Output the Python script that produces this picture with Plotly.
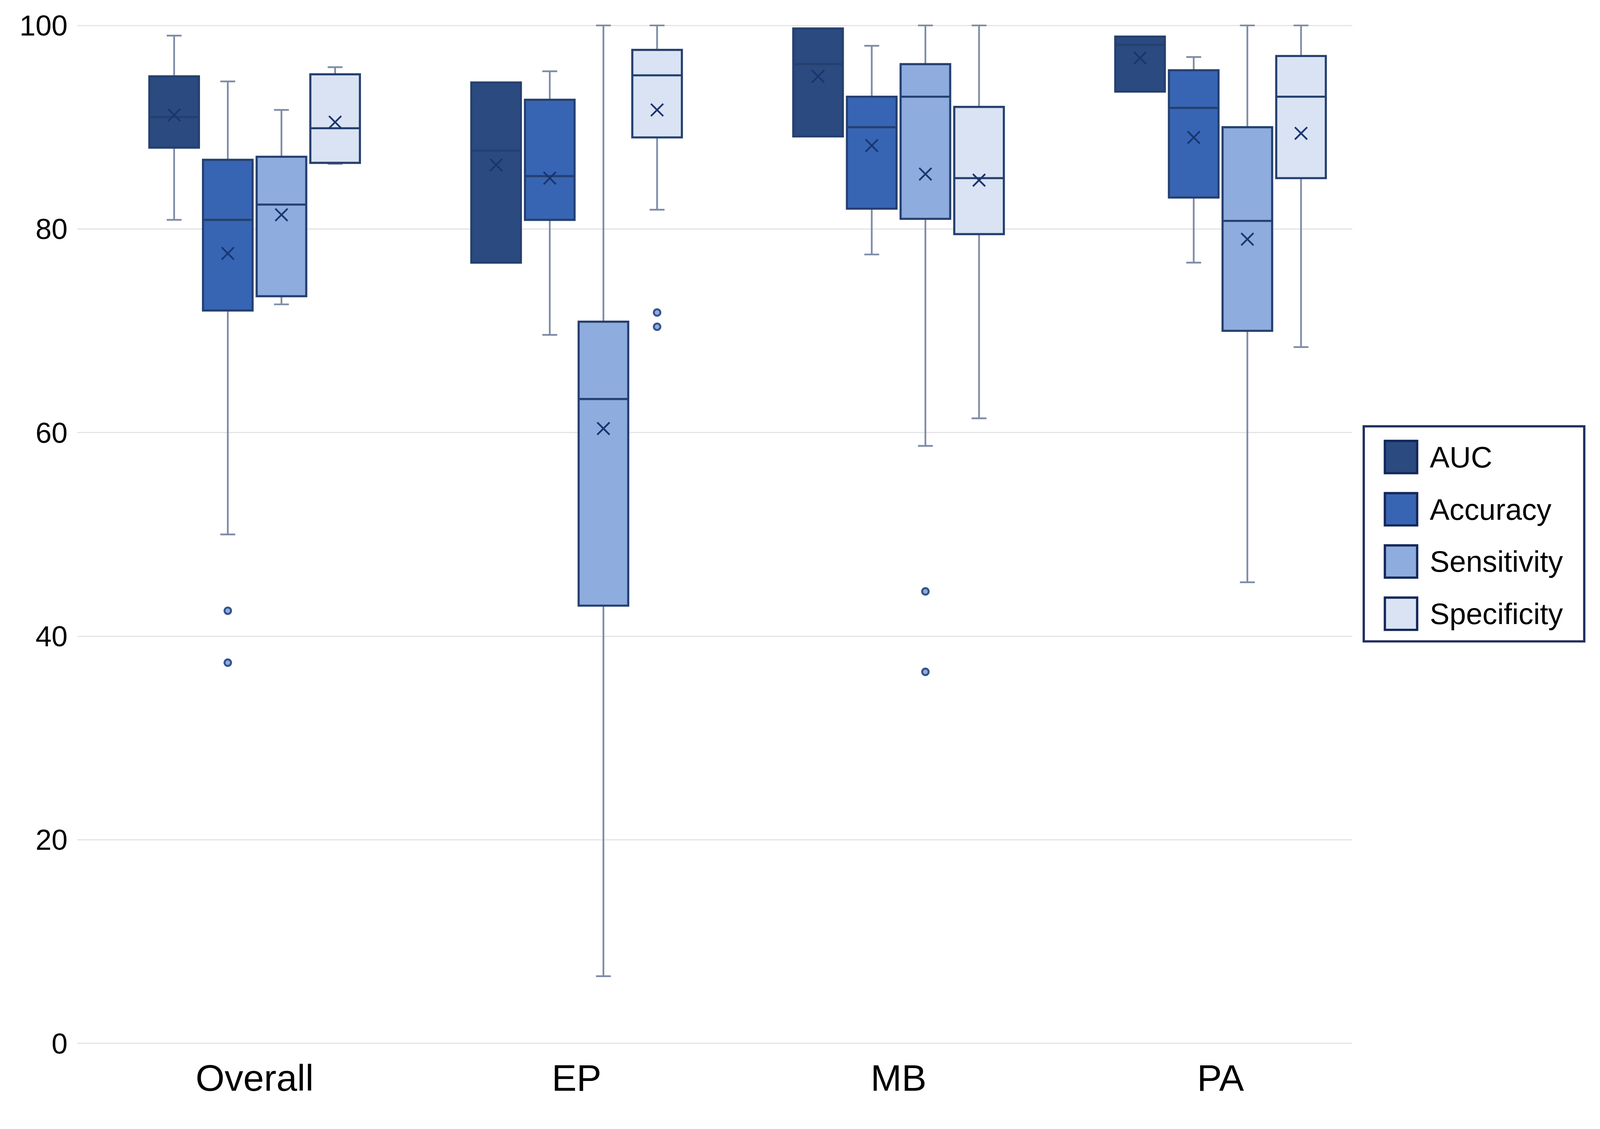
import plotly.graph_objects as go

# Box plot of AUC / Accuracy / Sensitivity / Specificity per subgroup

categories = ["Overall", "EP", "MB", "PA"]
series_names = ["AUC", "Accuracy", "Sensitivity", "Specificity"]

auc_lower = [80.9, 76.7, 89.1, 93.5]
auc_q1 = [88.0, 76.7, 89.1, 93.5]
auc_median = [91.0, 87.7, 96.2, 98.1]
auc_q3 = [95.0, 94.4, 99.7, 98.9]
auc_upper = [99.0, 94.4, 99.7, 98.9]
auc_mean = [91.2, 86.3, 95.0, 96.8]
auc_outliers = [[], [], [], []]

acc_lower = [50.0, 69.6, 77.5, 76.7]
acc_q1 = [72.0, 80.9, 82.0, 83.1]
acc_median = [80.9, 85.2, 90.0, 91.9]
acc_q3 = [86.8, 92.7, 93.0, 95.6]
acc_upper = [94.5, 95.5, 98.0, 96.9]
acc_mean = [77.6, 85.0, 88.2, 89.0]
acc_outliers = [[42.5, 37.4], [], [], []]

sens_lower = [72.6, 6.6, 58.7, 45.3]
sens_q1 = [73.4, 43.0, 81.0, 70.0]
sens_median = [82.4, 63.3, 93.0, 80.8]
sens_q3 = [87.1, 70.9, 96.2, 90.0]
sens_upper = [91.7, 100.0, 100.0, 100.0]
sens_mean = [81.4, 60.4, 85.4, 79.0]
sens_outliers = [[], [], [44.4, 36.5], []]

spec_lower = [86.4, 81.9, 61.4, 68.4]
spec_q1 = [86.5, 89.0, 79.5, 85.0]
spec_median = [89.9, 95.1, 85.0, 93.0]
spec_q3 = [95.2, 97.6, 92.0, 97.0]
spec_upper = [95.9, 100.0, 100.0, 100.0]
spec_mean = [90.5, 91.7, 84.8, 89.4]
spec_outliers = [[], [71.8, 70.4], [], []]

y_ticks = [0, 20, 40, 60, 80, 100]

fill_colors = ["#2A4A80", "#3765B3", "#8EACDD", "#DAE3F3"]
BOX_LINE = "#25406F"
WHISKER_LINE = "#7D8BA6"
MARK_COLOR = "#1A3570"
FONT = "Liberation Sans, Arial, sans-serif"

W, H = 4165, 2891
ML, MR, MT, MB = 201, 645, 53, 161
PW, PH = W - ML - MR, H - MT - MB

SLOT = 1 / 6
BOX_W = 0.154

stats = [
    (auc_lower, auc_q1, auc_median, auc_q3, auc_upper, auc_mean, auc_outliers),
    (acc_lower, acc_q1, acc_median, acc_q3, acc_upper, acc_mean, acc_outliers),
    (sens_lower, sens_q1, sens_median, sens_q3, sens_upper, sens_mean, sens_outliers),
    (spec_lower, spec_q1, spec_median, spec_q3, spec_upper, spec_mean, spec_outliers),
]

fig = go.Figure()

for k, (lo, q1, med, q3, up, mean, outl) in enumerate(stats):
    xs = [i + (k - 1.5) * SLOT for i in range(len(categories))]
    # whiskers (grey) first
    fig.add_trace(go.Box(
        x=xs, q1=q1, median=med, q3=q3, lowerfence=lo, upperfence=up,
        width=BOX_W, whiskerwidth=0.3, fillcolor=fill_colors[k],
        line=dict(color=WHISKER_LINE, width=4.5), boxpoints=False,
        showlegend=False, hoverinfo="skip",
    ))
    # box body on top with navy outline
    fig.add_trace(go.Box(
        x=xs, q1=q1, median=med, q3=q3, lowerfence=q1, upperfence=q3,
        width=BOX_W, whiskerwidth=0, fillcolor=fill_colors[k],
        line=dict(color=BOX_LINE, width=5.5), boxpoints=False,
        name=series_names[k], showlegend=False,
    ))
    fig.add_trace(go.Scatter(
        x=xs, y=mean, mode="markers", showlegend=False,
        marker=dict(symbol="x-thin", size=32, line=dict(width=4.5, color=MARK_COLOR)),
    ))
    ox = [xs[i] for i, vals in enumerate(outl) for _ in vals]
    oy = [v for vals in outl for v in vals]
    if oy:
        fig.add_trace(go.Scatter(
            x=ox, y=oy, mode="markers", showlegend=False,
            marker=dict(symbol="circle", size=17, color="#8EACDD",
                        line=dict(width=5, color="#34528F")),
        ))


def px_x(p):
    return (p - ML) / PW


def px_y(p):
    return (H - MB - p) / PH


# legend drawn by hand so the swatches can be large
shapes = [dict(type="rect", xref="paper", yref="paper",
               x0=px_x(3550), x1=px_x(4124), y0=px_y(1110), y1=px_y(1670),
               line=dict(color="#1F2F5E", width=6), fillcolor="white")]
annotations = []
for k, name in enumerate(series_names):
    cy = 1190 + k * 136
    shapes.append(dict(type="rect", xref="paper", yref="paper",
                       x0=px_x(3605), x1=px_x(3689), y0=px_y(cy - 42), y1=px_y(cy + 42),
                       line=dict(color="#14285A", width=6), fillcolor=fill_colors[k]))
    annotations.append(dict(xref="paper", yref="paper", x=px_x(3720), y=px_y(cy),
                            text=name, showarrow=False, xanchor="left", yanchor="middle",
                            font=dict(family=FONT, size=77, color="black")))

fig.update_layout(
    width=W, height=H,
    margin=dict(l=ML, r=MR, t=MT, b=MB),
    paper_bgcolor="white", plot_bgcolor="white",
    boxmode="overlay",
    shapes=shapes, annotations=annotations,
    xaxis=dict(range=[-0.551, 3.409], tickmode="array",
               tickvals=list(range(len(categories))), ticktext=categories,
               showgrid=False, zeroline=False, showline=False, ticks="",
               ticklabelstandoff=12,
               tickfont=dict(family=FONT, size=97, color="black")),
    yaxis=dict(range=[-0.5, 100.5], tickmode="array", tickvals=y_ticks,
               showgrid=True, gridcolor="#E4E4E4", gridwidth=3,
               zeroline=False, showline=False, ticks="",
               ticklabelstandoff=24,
               tickfont=dict(family=FONT, size=75, color="black")),
    showlegend=False,
)

# fit the fixed-size figure into the visible window without scrollbars
fit_js = (
    "document.body.style.margin='0';"
    "document.body.style.overflow='hidden';"
    "var d=document.getElementById('{plot_id}');"
    "var s=Math.min(window.innerWidth/%d, window.innerHeight/%d);"
    "d.style.transformOrigin='0 0';"
    "d.style.transform='scale('+s+')';" % (W, H)
)
fig.write_html("out.html", config={"displayModeBar": False}, post_script=fit_js)
